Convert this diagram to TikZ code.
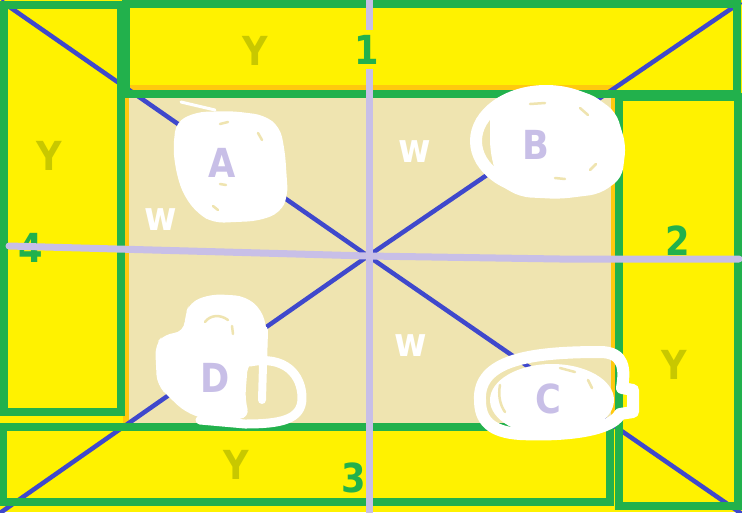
\documentclass[tikz,border=0pt]{standalone}
\usepackage{fontspec}
\newfontfamily\lbl{DejaVu Sans}[FakeStretch=0.88]
\definecolor{bgyellow}{HTML}{FFF200}
\definecolor{tan}{HTML}{EFE4B0}
\definecolor{orng}{HTML}{FFC90E}
\definecolor{boxgreen}{HTML}{22B14C}
\definecolor{diagblue}{HTML}{3F48CC}
\definecolor{lav}{HTML}{C8BFE7}
\definecolor{ytxt}{HTML}{C8C800}
\begin{document}
\begin{tikzpicture}[x=1pt,y=-1pt,
  greenbox/.style={draw=boxgreen, line width=8pt},
  diag/.style={draw=diagblue, line width=4.5pt},
  axisline/.style={draw=lav, line width=7pt, line cap=round, line join=round},
  txt/.style={inner sep=0pt, font=\lbl\bfseries\fontsize{40}{40}\selectfont},
  ylab/.style={txt, text=ytxt},
  numlab/.style={txt, text=boxgreen},
  wlab/.style={txt, text=white},
  letter/.style={txt, text=lav},
  blob/.style={fill=white, rounded corners=10pt},
  blobloop/.style={draw=white, line cap=round, line join=round},
  fleck/.style={draw=tan, line width=2.5pt, line cap=round}]
\useasboundingbox (0,0) rectangle (742,512);
% background
\fill[bgyellow] (0,0) rectangle (742,512);
% inner field
\draw[fill=tan, draw=orng, line width=6pt] (125.5,88) rectangle (614,427);
% diagonals
\coordinate (ctr) at (368,256);
\coordinate (tl) at (1,1);
\coordinate (tr) at (741,2);
\coordinate (bl) at (0,513);
\coordinate (br) at (742,514);
\draw[diag] (tl) -- (ctr);
\draw[diag] (tr) -- (ctr);
\draw[diag] (bl) -- (ctr);
\draw[diag] (br) -- (ctr);
% green frames
\draw[greenbox] (3.5,5) rectangle (121,412);
\draw[greenbox] (126,4) rectangle (736.5,94);
\draw[greenbox] (619,97) rectangle (737.5,506);
\draw[greenbox] (3,427) rectangle (610,502);
% lavender axes
\coordinate (vtop) at (369,0);
\coordinate (vbot) at (369,512);
\coordinate (hl) at (9,246);
\coordinate (hm) at (560,259);
\coordinate (hr) at (739,259);
\node[numlab] (n4) at (31,248) {4};
\draw[axisline] (vtop) -- (vbot);
\draw[axisline] (hl) -- (ctr) -- (hm) -- (hr);
% labels
\node[numlab, fill=bgyellow, minimum height=39pt, inner xsep=1pt] (n1) at (367,49.5) {1};
\node[numlab] (n2) at (678,241) {2};
\node[numlab] (n3) at (354,478) {3};
\node[ylab] (y1) at (255,51) {Y};
\node[ylab] (y4) at (49,156) {Y};
\node[ylab] (y3) at (236,465) {Y};
\node[ylab] (y2) at (674,365) {Y};
\node[wlab] (w1) at (415,152) {w};
\node[wlab] (w2) at (161,220) {w};
\node[wlab] (w3) at (411,346) {w};
% blob A
\fill[blob] (176,122) -- (196,112) -- (232,111) -- (264,115) -- (280,127) -- (285,152) -- (288,196) -- (280,213) -- (258,221) -- (214,223) -- (198,214) -- (184,196) -- (177,176) -- (173,150) -- cycle;
\draw[blobloop, line width=3pt] (181,102) -- (215,110);
\draw[fleck] (220,124) -- (228,122);
\draw[fleck] (258,133) -- (262,140);
\draw[fleck] (220,184) -- (226,185);
\draw[fleck] (213,206) -- (218,210);
% blob B
\fill[blob] (492,100) -- (540,86) -- (590,93) -- (616,112) -- (626,145) -- (622,178) -- (600,194) -- (560,199) -- (520,197) -- (498,184) -- (490,150) -- (490,115) -- cycle;
\draw[blobloop, line width=12pt] (546,141) ellipse [x radius=70, y radius=50];
\draw[fleck] (530,104) -- (545,103);
\draw[fleck] (580,108) -- (588,115);
\draw[fleck] (555,178) -- (565,179);
\draw[fleck] (590,170) -- (596,164);
% blob D
\fill[blob] (190,302) -- (212,294) -- (245,296) -- (262,310) -- (268,335) -- (266,358) -- (248,362) -- (245,400) -- (250,418) -- (210,421) -- (185,412) -- (170,398) -- (157,385) -- (155,345) -- (164,334) -- (184,332) -- (185,315) -- cycle;
\draw[blobloop, line width=9pt] (250,362) .. controls (285,355) and (302,375) .. (302,398) .. controls (302,420) and (280,424) .. (245,424) -- (200,420);
\draw[blobloop, line width=8pt] (264,330) -- (262,400);
\draw[fleck] (205,322) .. controls (210,315) and (220,314) .. (228,320);
\draw[fleck] (232,326) -- (233,334);
% blob C
\fill[white] (552,400) ellipse [x radius=62, y radius=36];
\draw[blobloop, line width=12pt] (480,400) .. controls (478,360) and (530,352) .. (600,352) .. controls (625,352) and (625,370) .. (622,388) -- (633,390) -- (633,412) -- (620,414) .. controls (610,432) and (560,436) .. (520,434) .. controls (490,432) and (480,420) .. (480,400) -- cycle;
\draw[fleck] (500,385) .. controls (498,395) and (500,405) .. (505,412);
\draw[fleck] (560,368) -- (575,372);
\draw[fleck] (588,380) -- (592,388);
% letters
\node[letter] (A) at (222,163) {A};
\node[letter] (B) at (536,145) {B};
\node[letter] (D) at (215,378) {D};
\node[letter] (C) at (548,399) {C};
\end{tikzpicture}
\end{document}
